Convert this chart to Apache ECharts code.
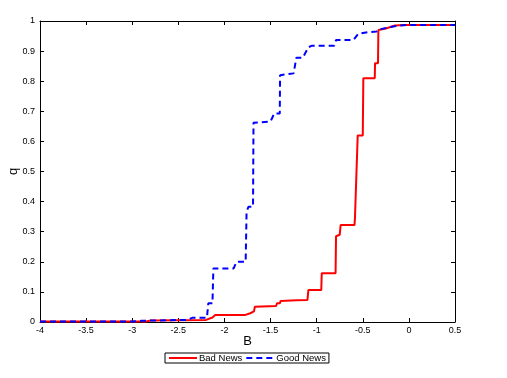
<!DOCTYPE html>
<html>
<head>
<meta charset="utf-8">
<script src="https://cdn.jsdelivr.net/npm/echarts@6/dist/echarts.min.js"></script>
<style>
  html, body { margin: 0; padding: 0; background: #fff; }
  #chart { width: 507px; height: 378px; }
</style>
</head>
<body>
<div id="chart"></div>
<script>
// Bad News (red, solid)
var badB = [-4, -2.85, -2.8, -2.5, -2.2, -2.13, -2.1, -1.78, -1.77, -1.72, -1.7, -1.68, -1.67, -1.44, -1.43, -1.40, -1.39, -1.22, -1.1, -1.09,
            -0.95, -0.945, -0.795, -0.79, -0.77, -0.75, -0.74, -0.59, -0.585, -0.565, -0.555, -0.5, -0.494, -0.37, -0.367, -0.335, -0.331,
            -0.25, -0.15, -0.05, 0.5];
var badQ = [0.002, 0.002, 0.005, 0.006, 0.007, 0.015, 0.023, 0.023, 0.029, 0.029, 0.035, 0.035, 0.051, 0.053, 0.062, 0.062, 0.07, 0.072, 0.073, 0.106,
            0.106, 0.162, 0.162, 0.285, 0.29, 0.29, 0.322, 0.322, 0.344, 0.344, 0.62, 0.62, 0.81, 0.81, 0.86, 0.86, 0.97,
            0.975, 0.985, 0.987, 0.987];

// Good News (blue, dashed)
var goodB = [-4, -3.0, -2.9, -2.6, -2.4, -2.35, -2.19, -2.175, -2.13, -2.12, -1.9, -1.87, -1.77, -1.76, -1.74, -1.69, -1.685, -1.5, -1.46, -1.40,
             -1.397, -1.25, -1.22, -1.15, -1.09, -1.05, -0.81, -0.79, -0.6, -0.55, -0.45, -0.35, -0.32, -0.2, -0.1, 0, 0.5];
var goodQ = [0.002, 0.002, 0.004, 0.006, 0.007, 0.014, 0.014, 0.062, 0.062, 0.178, 0.178, 0.2, 0.2, 0.366, 0.383, 0.383, 0.662, 0.666, 0.693, 0.693,
             0.82, 0.826, 0.878, 0.878, 0.913, 0.918, 0.918, 0.937, 0.937, 0.957, 0.963, 0.965, 0.972, 0.98, 0.985, 0.987, 0.987];

function pairs(xs, ys) {
    var out = [];
    for (var i = 0; i < xs.length; i++) out.push([xs[i], ys[i]]);
    return out;
}

var font = 'Liberation Sans, Arial, sans-serif';
var tick = { show: true, inside: true, length: 4, lineStyle: { color: '#000' } };
var line = { show: true, onZero: false, lineStyle: { color: '#000', width: 1 } };

var chart = echarts.init(document.getElementById('chart'), null, { renderer: 'canvas' });
chart.setOption({
    backgroundColor: '#fff',
    animation: false,
    textStyle: { fontFamily: font },
    grid: { left: 40, right: 52, top: 21, bottom: 56, containLabel: false, outerBoundsMode: 'none' },
    legend: {
        left: 165, top: 353,
        itemWidth: 28, itemHeight: 10, itemGap: 3,
        padding: [0, 3, 0, 3],
        borderColor: '#000', borderWidth: 1,
        itemStyle: { opacity: 0 },
        textStyle: { fontSize: 9.5, color: '#000', fontFamily: font, padding: [1, 0, 0, -3] },
        data: ['Bad News', 'Good News']
    },
    xAxis: [{
        type: 'value', min: -4, max: 0.5, interval: 0.5,
        name: 'B', nameLocation: 'middle', nameGap: 13, nameMoveOverlap: false,
        nameTextStyle: { fontSize: 13, color: '#000' },
        axisLine: line, axisTick: tick, splitLine: { show: false },
        axisLabel: { fontSize: 9, color: '#000', margin: 4, showMaxLabel: true, showMinLabel: true }
    }, {
        type: 'value', min: -4, max: 0.5, interval: 0.5, position: 'top',
        axisLine: line, axisTick: tick, splitLine: { show: false }, axisLabel: { show: false }
    }],
    yAxis: [{
        type: 'value', min: 0, max: 1, interval: 0.1,
        name: 'q', nameLocation: 'middle', nameGap: 20, nameMoveOverlap: false,
        nameTextStyle: { fontSize: 13, color: '#000' },
        axisLine: line, axisTick: tick, splitLine: { show: false },
        axisLabel: { fontSize: 9, color: '#000', margin: 5,
            formatter: function (v) { return +v.toFixed(1) + ''; } }
    }, {
        type: 'value', min: 0, max: 1, interval: 0.1, position: 'right',
        axisLine: line, axisTick: tick, splitLine: { show: false }, axisLabel: { show: false }
    }],
    series: [{
        name: 'Bad News', type: 'line', symbol: 'none',
        lineStyle: { color: '#ff0000', width: 2 },
        itemStyle: { color: '#ff0000' },
        data: pairs(badB, badQ)
    }, {
        name: 'Good News', type: 'line', symbol: 'none',
        lineStyle: { color: '#0000ff', width: 2, type: [6, 4] },
        itemStyle: { color: '#0000ff' },
        data: pairs(goodB, goodQ)
    }]
});
</script>
</body>
</html>
